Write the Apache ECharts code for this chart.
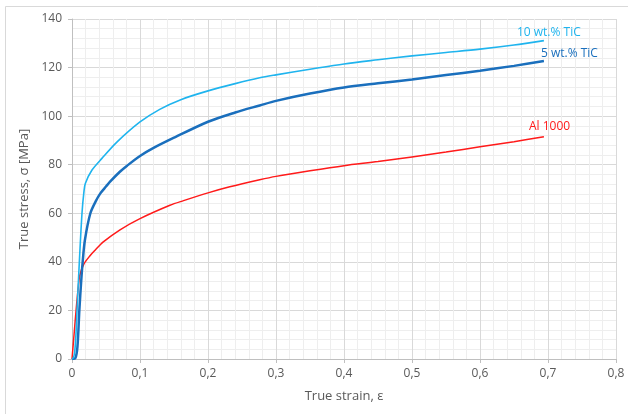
<!DOCTYPE html>
<html>
<head>
<meta charset="utf-8">
<script src="https://cdn.jsdelivr.net/npm/echarts@6/dist/echarts.min.js"></script>
<style>html,body{margin:0;padding:0;background:#fff}#c{width:628px;height:414px}</style>
</head>
<body>
<div id="c"></div>
<script>
const seriesNames = ['10 wt.% TiC', '5 wt.% TiC', 'Al 1000'];
const xTicks = [0, 0.1, 0.2, 0.3, 0.4, 0.5, 0.6, 0.7, 0.8];
const yTicks = [0, 20, 40, 60, 80, 100, 120, 140];

const tic10 = [[0,0],[0.002,0.5],[0.004,3],[0.006,11],[0.0074,20],[0.0108,40],[0.0147,60],[0.0176,69],[0.0196,72.3],[0.0294,77.8],[0.044,82.6],[0.066,89.3],[0.1,97.6],[0.129,102.8],[0.16,106.8],[0.2,110.4],[0.24,113.4],[0.276,115.8],[0.3,117],[0.35,119.3],[0.4,121.5],[0.45,123.2],[0.5,124.8],[0.55,126.2],[0.6,127.6],[0.65,129.3],[0.694,131.1]];
const tic5 = [[0,0],[0.005,0.4],[0.008,5],[0.0108,20],[0.0135,32],[0.0157,40],[0.019,49],[0.027,60],[0.035,65],[0.0417,68.2],[0.05,71],[0.056,73],[0.07,77],[0.081,79.6],[0.1,83.6],[0.12,86.9],[0.147,90.7],[0.2,97.7],[0.24,101.5],[0.276,104.4],[0.3,106.3],[0.35,109.3],[0.4,111.8],[0.45,113.5],[0.5,115.1],[0.55,116.9],[0.6,118.7],[0.65,120.7],[0.694,122.7]];
const al1000 = [[0,0],[0.003,10],[0.006,20],[0.009,29],[0.0115,34.5],[0.0172,39],[0.0265,42.5],[0.034,44.8],[0.046,48.2],[0.0706,53.2],[0.1,57.8],[0.144,63.3],[0.164,65.2],[0.2,68.4],[0.232,70.9],[0.276,73.8],[0.3,75.2],[0.35,77.5],[0.4,79.6],[0.45,81.3],[0.5,83.2],[0.55,85.2],[0.6,87.4],[0.65,89.5],[0.694,91.5]];

const FONT = 'Open Sans';
const chart = echarts.init(document.getElementById('c'), null, {renderer: 'canvas'});

function mkSeries(name, data, color, width, offset) {
  return {
    name: name, type: 'line', data: data, showSymbol: false,
    smooth: 0.3,
    lineStyle: {color: color, width: width}, itemStyle: {color: color},
    animation: false,
    endLabel: {show: true, formatter: name, color: color, fontFamily: FONT, fontSize: 12,
      align: 'left', verticalAlign: 'middle', offset: offset}
  };
}

chart.setOption({
  animation: false,
  backgroundColor: '#fff',
  grid: {left: 72, right: 12, top: 19, bottom: 55},
  graphic: [{type: 'rect', shape: {x: 5.5, y: 6.5, width: 640, height: 420}, style: {fill: 'none', stroke: '#d9d9d9', lineWidth: 1}, silent: true, z: -1}],
  xAxis: {
    type: 'value', min: xTicks[0], max: xTicks[xTicks.length-1], interval: 0.1,
    name: 'True strain, ε', nameLocation: 'middle', nameGap: 31,
    nameTextStyle: {color: '#595959', fontFamily: FONT, fontSize: 13},
    axisLine: {show: true, lineStyle: {color: '#bfbfbf'}},
    axisTick: {show: true, length: 4, lineStyle: {color: '#bfbfbf'}},
    axisLabel: {color: '#595959', fontFamily: FONT, fontSize: 12, margin: 9,
      formatter: v => String(Math.round(v*10)/10).replace('.', ',')},
    splitLine: {show: true, lineStyle: {color: '#d9d9d9'}},
    minorTick: {show: true, splitNumber: 5, length: 0},
    minorSplitLine: {show: true, lineStyle: {color: '#eeeeee'}}
  },
  yAxis: {
    type: 'value', min: yTicks[0], max: yTicks[yTicks.length-1], interval: 20,
    name: 'True stress, σ [MPa]', nameLocation: 'middle', nameGap: 37,
    nameTextStyle: {color: '#595959', fontFamily: FONT, fontSize: 13},
    axisLine: {show: true, lineStyle: {color: '#bfbfbf'}},
    axisTick: {show: true, length: 4, lineStyle: {color: '#bfbfbf'}},
    axisLabel: {color: '#595959', fontFamily: FONT, fontSize: 12, margin: 10},
    splitLine: {show: true, lineStyle: {color: '#d9d9d9'}},
    minorTick: {show: true, splitNumber: 5, length: 0},
    minorSplitLine: {show: true, lineStyle: {color: '#eeeeee'}}
  },
  series: [
    mkSeries(seriesNames[2], al1000, '#ff1a1a', 1.5, [-23, -10]),
    mkSeries(seriesNames[1], tic5, '#1a6fbd', 2.5, [-11, -7]),
    mkSeries(seriesNames[0], tic10, '#1fb4ee', 1.6, [-35, -8])
  ]
});
</script>
</body>
</html>
